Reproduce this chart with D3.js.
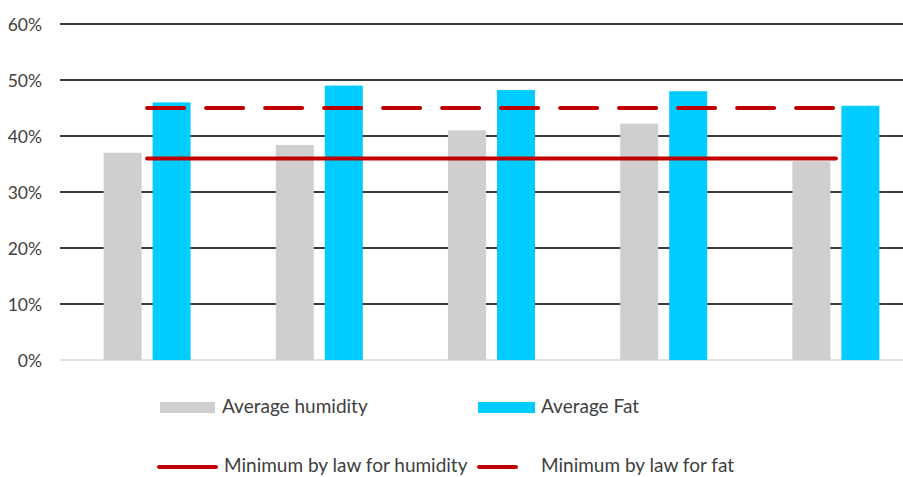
<!DOCTYPE html>
<html>
<head>
<meta charset="utf-8">
<script src="https://cdn.jsdelivr.net/npm/d3@7"></script>
<style>
  html, body { margin: 0; padding: 0; background: #fff; }
  svg { display: block; }
  text { font-family: Lato, "Open Sans", sans-serif; fill: #404040; }
</style>
</head>
<body>
<svg id="chart" width="903" height="477"></svg>
<script>
// Samples along the category axis (not labelled on the chart)
const categories = ["1", "2", "3", "4", "5"];
// Measured averages per sample
const avgHumidity = [0.37, 0.384, 0.41, 0.422, 0.355];
const avgFat = [0.46, 0.49, 0.482, 0.48, 0.454];
// Legal minimums, constant across samples
const minHumidity = [0.36, 0.36, 0.36, 0.36, 0.36];
const minFat = [0.45, 0.45, 0.45, 0.45, 0.45];
const yTicks = [0, 0.1, 0.2, 0.3, 0.4, 0.5, 0.6];

const svg = d3.select("#chart");

const x = d3.scaleBand().domain(categories).range([61, 922]).padding(0);
const xs = d3.scaleBand().domain(["humidity", "fat"])
  .range([0, x.bandwidth()]).paddingInner(0.2245).paddingOuter(0.87);
const y = d3.scaleLinear().domain([0, 0.6]).range([360, 24]);

const fmt = d3.format(".0%");

// Gridlines (the zero line is lighter)
svg.append("g").selectAll("line").data(yTicks).join("line")
  .attr("x1", 60).attr("x2", 903)
  .attr("y1", d => y(d)).attr("y2", d => y(d))
  .attr("stroke", d => d === 0 ? "#d9d9d9" : "#3a3a3a")
  .attr("stroke-width", d => d === 0 ? 1.5 : 1.8);

// Y axis labels
svg.append("g").selectAll("text").data(yTicks).join("text")
  .attr("x", 42).attr("y", d => y(d))
  .attr("text-anchor", "end").attr("dominant-baseline", "central")
  .style("font-size", "17.5px")
  .text(d => fmt(d));

// Bars
const rows = categories.map((c, i) => ({ c, humidity: avgHumidity[i], fat: avgFat[i] }));
const colors = { humidity: "#d0cece", fat: "#00ccff" };
const groups = svg.append("g").selectAll("g").data(rows).join("g")
  .attr("transform", d => `translate(${x(d.c)},0)`);
groups.selectAll("rect").data(d => ["humidity", "fat"].map(k => ({ k, v: d[k] }))).join("rect")
  .attr("x", d => xs(d.k))
  .attr("width", xs.bandwidth())
  .attr("y", d => y(d.v))
  .attr("height", d => y(0) - y(d.v))
  .attr("fill", d => colors[d.k]);

// Legal minimum lines
const line = d3.line()
  .x((d, i) => x(categories[i]) + x.bandwidth() / 2)
  .y(d => y(d));
svg.append("path").datum(minHumidity)
  .attr("d", line).attr("fill", "none")
  .attr("stroke", "#c00000").attr("stroke-width", 4).attr("stroke-linecap", "round");
svg.append("path").datum(minFat)
  .attr("d", line).attr("fill", "none")
  .attr("stroke", "#c00000").attr("stroke-width", 4).attr("stroke-linecap", "round")
  .attr("stroke-dasharray", "37 22");

// Legend
const legend = svg.append("g").style("font-size", "19px");
legend.append("rect").attr("x", 160).attr("y", 402).attr("width", 55).attr("height", 11).attr("fill", colors.humidity);
legend.append("text").attr("x", 222).attr("y", 413).text("Average humidity");
legend.append("rect").attr("x", 478).attr("y", 402).attr("width", 57).attr("height", 11).attr("fill", colors.fat);
legend.append("text").attr("x", 541).attr("y", 413).text("Average Fat");

legend.append("line").attr("x1", 159).attr("x2", 216).attr("y1", 467).attr("y2", 467)
  .attr("stroke", "#c00000").attr("stroke-width", 4).attr("stroke-linecap", "round");
legend.append("text").attr("x", 224).attr("y", 472).text("Minimum by law for humidity");
legend.append("line").attr("x1", 479).attr("x2", 516).attr("y1", 467).attr("y2", 467)
  .attr("stroke", "#c00000").attr("stroke-width", 4).attr("stroke-linecap", "round");
legend.append("text").attr("x", 541).attr("y", 472).text("Minimum by law for fat");
</script>
</body>
</html>
